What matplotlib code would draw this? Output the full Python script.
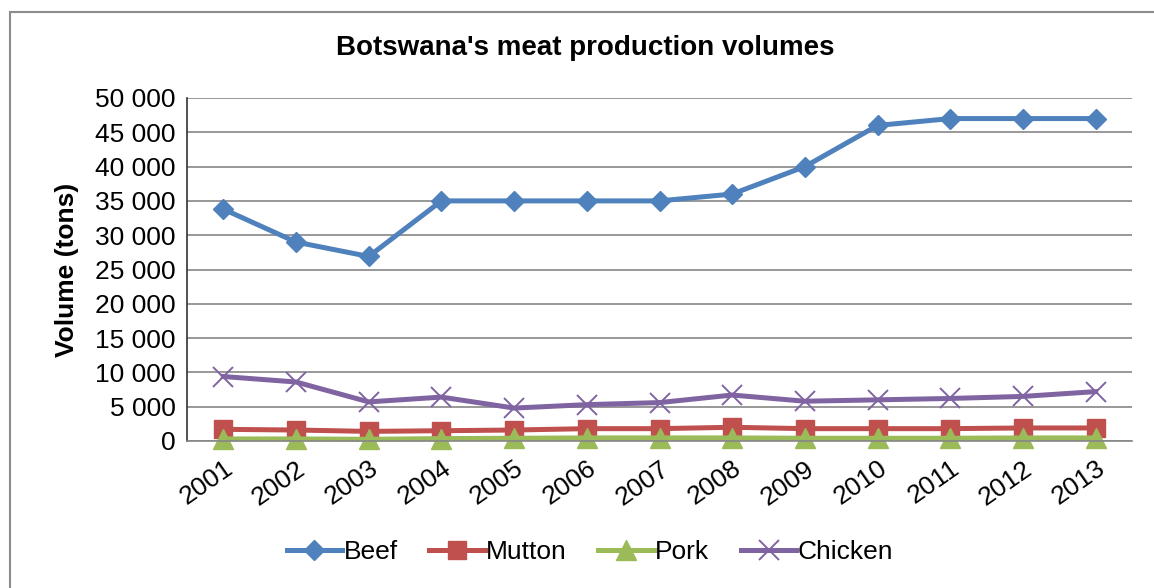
import matplotlib.pyplot as plt
from matplotlib.patches import Rectangle
from matplotlib.ticker import FuncFormatter, MultipleLocator

plt.rcParams['font.family'] = ['Liberation Sans', 'DejaVu Sans']

years = ['2001', '2002', '2003', '2004', '2005', '2006', '2007',
         '2008', '2009', '2010', '2011', '2012', '2013']
beef = [33800, 29000, 26900, 35000, 35000, 35000, 35000,
        36000, 40000, 46000, 47000, 47000, 47000]
mutton = [1700, 1600, 1400, 1500, 1600, 1800, 1800,
          2000, 1800, 1800, 1800, 1900, 1900]
pork = [300, 300, 250, 350, 400, 450, 450, 450, 400, 400, 400, 450, 450]
chicken = [9400, 8600, 5700, 6400, 4800, 5300, 5600,
           6700, 5800, 6000, 6200, 6500, 7200]

fig = plt.figure(figsize=(11.54, 5.88), dpi=100)
ax = fig.add_axes([187 / 1154, 1 - 441 / 588, (1132 - 187) / 1154, (441 - 98) / 588])

# chart-area border
fig.patches.append(Rectangle((10 / 1154, -0.05), 1.2, 1 - 12 / 588 + 0.05,
                             transform=fig.transFigure, fill=False,
                             edgecolor='#8c8c8c', linewidth=1.5))

x = range(len(years))
ax.plot(x, beef, color='#4F81BD', lw=3.6, marker='D', ms=10.5, label='Beef',
        clip_on=False)
ax.plot(x, mutton, color='#C0504D', lw=3.6, marker='s', ms=13.5, label='Mutton',
        clip_on=False)
ax.plot(x, pork, color='#9BBB59', lw=3.6, marker='^', ms=14, label='Pork',
        clip_on=False)
ax.plot(x, chicken, color='#8064A2', lw=3.6, marker='x', ms=14, mew=1.4,
        label='Chicken', clip_on=False)

ax.set_xlim(-0.5, len(years) - 0.5)
ax.set_ylim(0, 50000)
ax.yaxis.set_major_locator(MultipleLocator(5000))
ax.yaxis.set_major_formatter(FuncFormatter(lambda v, p: f'{int(v):,}'.replace(',', ' ')))
ax.set_xticks(list(x))
ax.set_xticklabels(years, rotation=35, ha='right', rotation_mode='anchor')
ax.tick_params(axis='both', length=0, labelsize=19, pad=8)
ax.tick_params(axis='x', labelsize=19, pad=11)
ax.grid(axis='y', color='#868686', lw=1.2)
ax.set_axisbelow(True)
for s in ['top', 'right']:
    ax.spines[s].set_visible(False)
ax.spines['left'].set_color('#333333')
ax.spines['bottom'].set_color('#868686')
ax.spines['left'].set_linewidth(1.2)
ax.spines['bottom'].set_linewidth(1.2)

ax.set_ylabel('Volume (tons)', fontsize=19, fontweight='bold', labelpad=12)
fig.text(585 / 1154, 1 - 48 / 588, "Botswana's meat production volumes",
         ha='center', va='center', fontsize=20, fontweight='bold')

fig.legend(loc='center', bbox_to_anchor=(590 / 1154, 1 - 552 / 588), ncol=4,
           frameon=False, fontsize=19, handlelength=2.1, handletextpad=0.05,
           columnspacing=1.2)

fig.savefig('out.png', dpi=100)
